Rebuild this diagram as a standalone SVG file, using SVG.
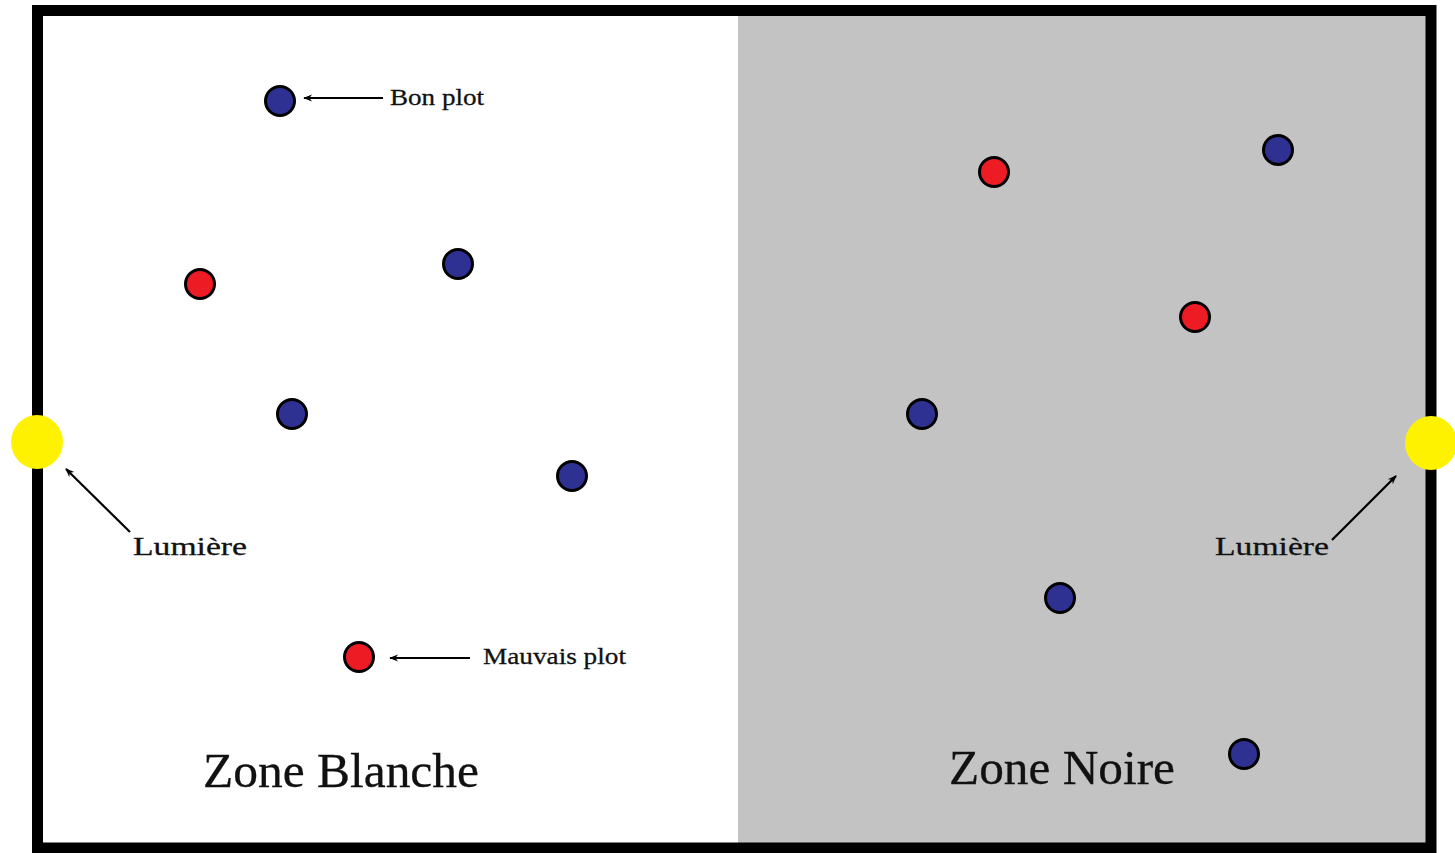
<svg xmlns="http://www.w3.org/2000/svg" width="1455" height="853" viewBox="0 0 1455 853">
<style>
.blue{fill:#2e3192;stroke:#000;stroke-width:3}
.red{fill:#ed1c24;stroke:#000;stroke-width:3}
.sun{fill:#fff200}
.lbl{font-family:"Liberation Serif",serif;fill:#111;stroke:#111;stroke-width:0.3}
.conn{stroke:#000;stroke-width:2.2;fill:none;marker-end:url(#ah)}
</style>
<defs>
<marker id="ah" viewBox="0 0 10 10" refX="9" refY="5" markerWidth="11" markerHeight="9" orient="auto" markerUnits="userSpaceOnUse">
<path d="M0,1 L10,5 L0,9 L3,5 Z" fill="#000"/>
</marker>
</defs>
<rect x="0" y="0" width="1455" height="853" fill="#fff"/>
<g id="zone-blanche">
<rect x="37.5" y="10.5" width="700.5" height="837.5" fill="#fff"/>
<text class="lbl" x="203" y="787" font-size="48" textLength="276" lengthAdjust="spacingAndGlyphs">Zone Blanche</text>
</g>
<g id="zone-noire">
<rect x="738" y="10.5" width="693" height="837.5" fill="#c3c3c3"/>
<text class="lbl" x="949" y="784" font-size="48" textLength="226" lengthAdjust="spacingAndGlyphs">Zone Noire</text>
</g>
<rect id="cadre" x="37.5" y="10.5" width="1393.5" height="837.5" fill="none" stroke="#000" stroke-width="11"/>
<g id="plots">
<circle id="b1" class="blue" cx="280" cy="101" r="14.5"/>
<circle id="b2" class="blue" cx="458" cy="264" r="14.5"/>
<circle id="b3" class="blue" cx="292" cy="414" r="14.5"/>
<circle id="b4" class="blue" cx="572" cy="476" r="14.5"/>
<circle id="b5" class="blue" cx="1278" cy="150" r="14.5"/>
<circle id="b6" class="blue" cx="922" cy="414" r="14.5"/>
<circle id="b7" class="blue" cx="1060" cy="598" r="14.5"/>
<circle id="b8" class="blue" cx="1244" cy="754" r="14.5"/>
<circle id="r1" class="red" cx="200" cy="284" r="14.5"/>
<circle id="r2" class="red" cx="359" cy="657" r="14.5"/>
<circle id="r3" class="red" cx="994" cy="172" r="14.5"/>
<circle id="r4" class="red" cx="1195" cy="317" r="14.5"/>
</g>
<g id="lumiere-gauche">
<ellipse class="sun" cx="37" cy="442" rx="26" ry="27"/>
<text class="lbl" x="133" y="555" font-size="26" textLength="114" lengthAdjust="spacingAndGlyphs">Lumière</text>
</g>
<g id="lumiere-droite">
<ellipse class="sun" cx="1431" cy="443" rx="26" ry="27"/>
<text class="lbl" x="1215" y="555" font-size="26" textLength="114" lengthAdjust="spacingAndGlyphs">Lumière</text>
</g>
<g id="label-bon">
<text class="lbl" x="390" y="105" font-size="24" textLength="94" lengthAdjust="spacingAndGlyphs">Bon plot</text>
</g>
<g id="label-mauvais">
<text class="lbl" x="483" y="664" font-size="24" textLength="143" lengthAdjust="spacingAndGlyphs">Mauvais plot</text>
</g>
<g id="connectors">
<line class="conn" x1="383" y1="98" x2="304" y2="98"/>
<line class="conn" x1="470" y1="658" x2="390" y2="658"/>
<line class="conn" x1="130" y1="532" x2="66" y2="469"/>
<line class="conn" x1="1332" y1="540" x2="1396" y2="476"/>
</g>
</svg>
